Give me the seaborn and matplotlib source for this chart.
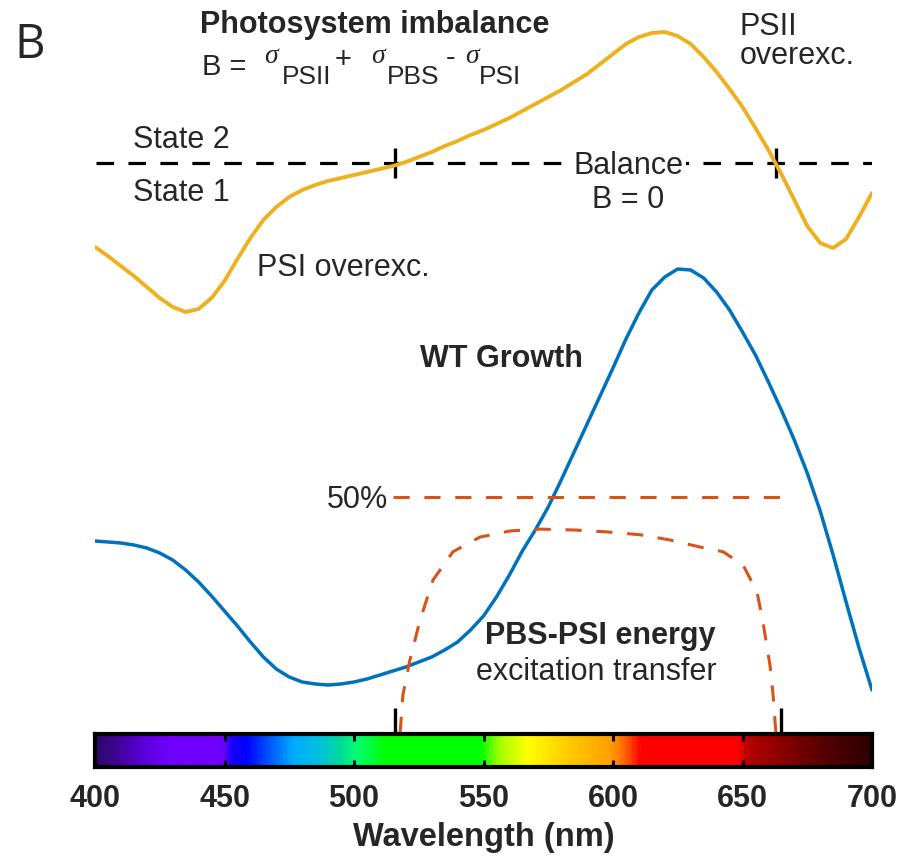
import numpy as np
import pandas as pd
import matplotlib
matplotlib.use("Agg")
import matplotlib.pyplot as plt
import seaborn as sns
from matplotlib import font_manager
from matplotlib.colors import LinearSegmentedColormap

# ---- data (wavelength in nm, heights in arbitrary units) ----
wl = np.arange(400, 701, 5)

# photosystem imbalance B (0 = balance)
imbalance = [-84, -93, -103, -113, -124, -135, -144, -149, -146, -135,
             -118, -96, -75, -57, -44, -34, -27, -22, -18, -15,
             -12, -9, -6, -3, 1, 6, 11, 17, 22, 28,
             33, 39, 45, 52, 59, 66, 73, 81, 89, 99,
             109, 119, 126, 130, 131, 127, 119, 106, 91, 74,
             56, 35, 13, -11, -37, -63, -80, -85, -76, -54, -30]

# WT growth (a.u.)
growth = [192, 191, 190, 188, 185, 180, 173, 163, 151, 137,
          122, 107, 91, 76, 64, 56, 51, 49, 48, 49,
          51, 54, 58, 62, 66, 71, 76, 83, 91, 103,
          117, 136, 158, 182, 203, 226, 253, 281, 309, 337,
          365, 394, 420, 443, 456, 464, 463, 455, 441, 423,
          401, 378, 351, 323, 293, 260, 222, 178, 131, 85, 43]

# PBS-PSI excitation transfer efficiency (%)
eet_wl = [517.8, 518.9, 521.6, 525.5, 530.5, 538.2, 548.6, 560.2, 571.8, 585.3,
          597.7, 610.4, 622.0, 633.6, 642.5, 650.2, 655.6, 657.9, 660.6, 661.8, 662.9]
eet = [0, 8.1, 15.5, 23.9, 32.4, 38.4, 41.5, 42.8, 43.2, 43.0,
       42.6, 42.0, 40.9, 39.4, 38.4, 35.6, 29.9, 23.5, 14.4, 8.1, 0]
eet_ref = 50                      # "50%" reference
eet_ref_span = (515, 665)

balance_ticks = [516, 663]
bar_ticks = [516, 665]

# visible spectrum colours used for the wavelength bar
spec_nm = [400, 418, 428, 449, 452, 458, 468, 476, 486, 494, 501, 512,
           549, 556, 567, 581, 599, 604, 608, 611, 649, 652, 664, 684, 700]
spec_col = ["#2c0868", "#5a00d8", "#7000ff", "#7000ff", "#1a00ff", "#0000ff",
            "#0060ff", "#00aaff", "#00c0e0", "#00d8a0", "#00ff70", "#00ff00",
            "#00ff00", "#a0ff00", "#ffff00", "#ffd000", "#ffa000", "#ff7000",
            "#ff3000", "#ff0000", "#ff0000", "#b80000", "#900000", "#500000",
            "#300000"]

xticks = [400, 450, 500, 550, 600, 650, 700]

YELLOW = "#EDB120"
BLUE = "#0072BD"
ORANGE = "#D95319"

B_OFFSET = 570           # vertical place of the balance line
EET_SCALE = 236 / 50     # height units per percent

df_b = pd.DataFrame({"nm": wl, "y": np.array(imbalance) + B_OFFSET})
df_g = pd.DataFrame({"nm": wl, "y": growth})
df_e = pd.DataFrame({"nm": eet_wl, "y": np.array(eet) * EET_SCALE})

sns.set_theme(style="white")
plt.rcParams["font.family"] = ["Liberation Sans", "DejaVu Sans"]

installed = {f.name for f in font_manager.fontManager.ttflist}
panel_font = "Liberation Sans Narrow" if "Liberation Sans Narrow" in installed else "Open Sans"

fig = plt.figure(figsize=(9.02, 8.56), dpi=100)
W, H = 902, 856
ax = fig.add_axes([95 / W, 123 / H, 777 / W, 733 / H])
ax.set_xlim(400, 700)
ax.set_ylim(0, 733)
ax.axis("off")

# balance line
ax.hlines(B_OFFSET, 400.5, 700.5, colors="black", lw=2.3,
          linestyles=(0, (5.5, 4.5)))
ax.vlines(balance_ticks, B_OFFSET - 15, B_OFFSET + 15, colors="black", lw=2.4)

sns.lineplot(data=df_b, x="nm", y="y", ax=ax, color=YELLOW, lw=2.8,
             estimator=None, sort=False, solid_joinstyle="round")
sns.lineplot(data=df_g, x="nm", y="y", ax=ax, color=BLUE, lw=2.5,
             estimator=None, sort=False, solid_joinstyle="round")
sns.lineplot(data=df_e, x="nm", y="y", ax=ax, color=ORANGE, lw=2.2,
             estimator=None, sort=False)
ax.lines[-1].set_dashes((5.3, 4.8))
ax.hlines(eet_ref * EET_SCALE, *eet_ref_span, colors=ORANGE, lw=2.2,
          linestyles=(0, (5.3, 4.8)))
ax.vlines(bar_ticks, 0, 25, colors="black", lw=2.4)


def label(px, py, s, size=22, ha="left", va="baseline", **kw):
    # place text by its pixel position in the 902x856 picture
    return fig.text(px / W, 1 - py / H, s, fontsize=size, ha=ha, va=va, **kw)


label(14, 58, "B", size=34, family=panel_font)
label(200, 33, "Photosystem imbalance", weight="bold")

# B = sigma_PSII + sigma_PBS - sigma_PSI
sig = dict(size=20, family="Liberation Serif", style="italic")
label(202, 75, "B =", size=21)
label(264, 63, "\u03c3", **sig)
label(282, 84, "PSII", size=19)
label(335, 68, "+", size=21)
label(371, 63, "\u03c3", **sig)
label(387, 84, "PBS", size=19)
label(446, 66, "-", size=21)
label(465, 63, "\u03c3", **sig)
label(479, 84, "PSI", size=19)

label(740, 35, "PSII")
label(740, 64, "overexc.")
label(133, 148, "State 2")
label(133, 201, "State 1")
label(574, 174, "Balance", bbox=dict(facecolor="white", edgecolor="none", pad=1.0))
label(592, 208, "B = 0")
label(257, 276, "PSI overexc.")
label(420, 367, "WT Growth", weight="bold")
label(388, 508, "50%", ha="right")
label(485, 644, "PBS-PSI energy", weight="bold")
label(476, 680, "excitation transfer")

# wavelength colour bar
cax = fig.add_axes([95 / W, 89 / H, 777 / W, 33 / H])
cmap = LinearSegmentedColormap.from_list(
    "spectrum", [((n - 400) / 300, c) for n, c in zip(spec_nm, spec_col)])
cax.imshow(np.linspace(400, 700, 900)[None, :], cmap=cmap, aspect="auto",
           extent=(400, 700, 0, 1), vmin=400, vmax=700)
cax.set_xlim(400, 700)
cax.set_yticks([])
cax.set_xticks(xticks)
cax.set_xticklabels([str(t) for t in xticks], fontsize=22, weight="bold")
cax.tick_params(axis="x", direction="in", length=5, width=2.2, top=True,
                bottom=True, pad=12, color="black")
for s in cax.spines.values():
    s.set_visible(True)
    s.set_color("black")
    s.set_linewidth(3)
cax.set_xlabel("Wavelength (nm)", fontsize=23.5, weight="bold", labelpad=6)

fig.savefig("out.png", dpi=100, facecolor="white")
